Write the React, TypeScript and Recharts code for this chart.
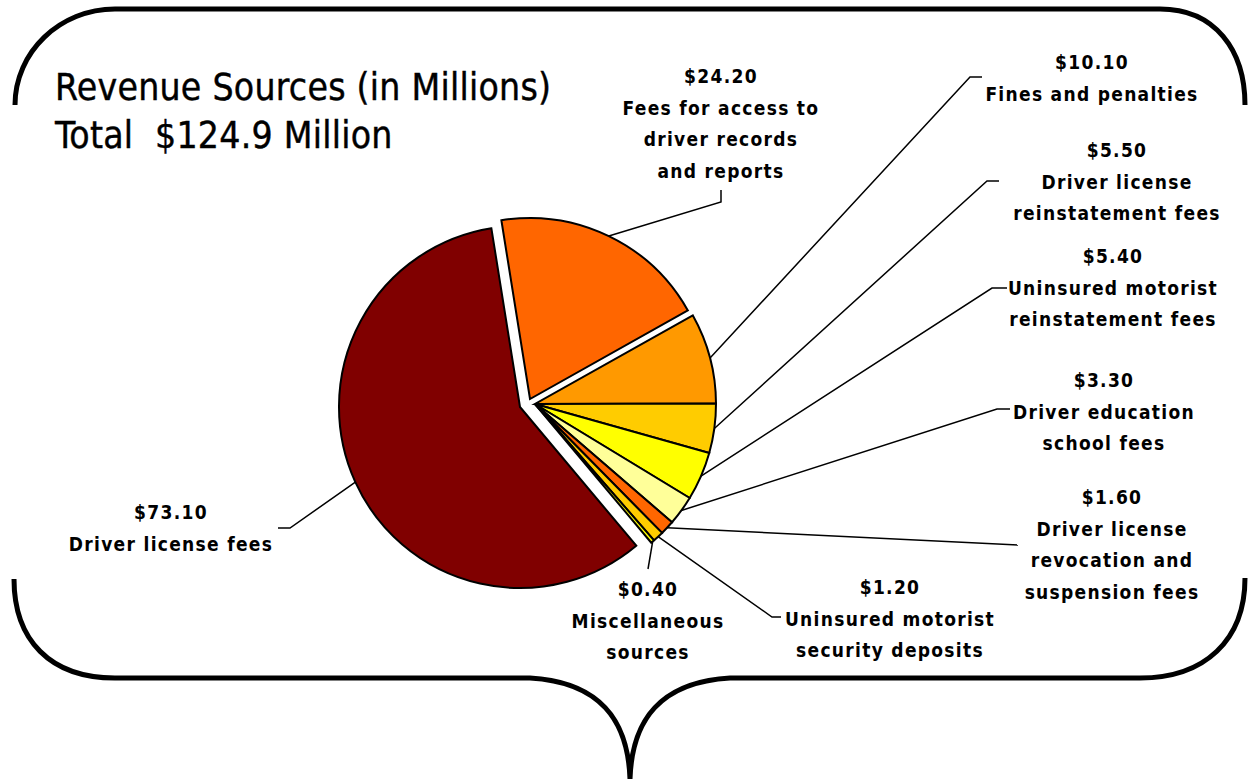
import React from 'react';
import { PieChart, Pie, Cell } from 'recharts';

// ---- data ----
const categories = [
  'Fees for access to driver records and reports',
  'Fines and penalties',
  'Driver license reinstatement fees',
  'Uninsured motorist reinstatement fees',
  'Driver education school fees',
  'Driver license revocation and suspension fees',
  'Uninsured motorist security deposits',
  'Miscellaneous sources',
  'Driver license fees',
];
const values = [24.2, 10.1, 5.5, 5.4, 3.3, 1.6, 1.2, 0.4, 73.1];
const valueLabels = ['$24.20', '$10.10', '$5.50', '$5.40', '$3.30', '$1.60', '$1.20', '$0.40', '$73.10'];
const labelLines = [
  ['Fees for access to', 'driver records', 'and reports'],
  ['Fines and penalties'],
  ['Driver license', 'reinstatement fees'],
  ['Uninsured motorist', 'reinstatement fees'],
  ['Driver education', 'school fees'],
  ['Driver license', 'revocation and', 'suspension fees'],
  ['Uninsured motorist', 'security deposits'],
  ['Miscellaneous', 'sources'],
  ['Driver license fees'],
];
const titleLines = ['Revenue Sources (in Millions)', 'Total  $124.9 Million'];

// ---- style / layout ----
const colors = ['#FF6600', '#FF9900', '#FFCC00', '#FFFF00', '#FFFF99', '#FF6600', '#FFCC00', '#FFFF00', '#800000'];
// explode offsets (px) per slice
const offsets = [
  { dx: -5, dy: -5 },
  { dx: 0, dy: 0 },
  { dx: 0, dy: 0 },
  { dx: 0, dy: 0 },
  { dx: 0, dy: 0 },
  { dx: 0, dy: 0 },
  { dx: 0, dy: 0 },
  { dx: 0, dy: 0 },
  { dx: -15, dy: 3 },
];
const CX = 530;
const CY = 399;
const R = 181;
const START = 99.1;
const END = START - 360;
const FONT = "'DejaVu Sans Condensed', 'DejaVu Sans', sans-serif";
const labelPos = [
  { x: 721, y: 83 },
  { x: 1092, y: 69 },
  { x: 1117, y: 157 },
  { x: 1113, y: 263 },
  { x: 1104, y: 387 },
  { x: 1112, y: 504 },
  { x: 890, y: 594 },
  { x: 648, y: 596 },
  { x: 171, y: 519 },
];
const elbows: number[][][] = [
  [[721, 202], [721, 190]],
  [[970, 77], [982, 77]],
  [[987, 181], [999, 181]],
  [[992, 288], [1007, 288]],
  [[997, 409], [1010, 409]],
  [[1018, 545]],
  [[772, 617], [781, 617]],
  [[648, 569]],
  [[290, 528], [278, 528]],
];
const LINE_H = 31.5;
const RAD = Math.PI / 180;

const rows = categories.map((name, i) => ({ name, value: values[i] }));
const isExploded = (i: number) => offsets[i].dx !== 0 || offsets[i].dy !== 0;

const renderLabel = (props: any) => {
  const { cx, cy, midAngle, outerRadius, index } = props;
  const o = offsets[index];
  const sx = cx + o.dx + outerRadius * Math.cos(-midAngle * RAD);
  const sy = cy + o.dy + outerRadius * Math.sin(-midAngle * RAD);
  const pts = [[sx, sy], ...elbows[index]].map((p) => p.join(',')).join(' ');
  const pos = labelPos[index];
  const lines = [valueLabels[index], ...labelLines[index]];
  return (
    <g key={`lab-${index}`}>
      <polyline points={pts} fill="none" stroke="#000" strokeWidth={1.5} />
      <text
        x={pos.x}
        y={pos.y}
        textAnchor="middle"
        fontFamily={FONT}
        fontWeight="bold"
        fontSize={19}
        letterSpacing={1.3}
        fill="#000"
      >
        {lines.map((t, k) => (
          <tspan key={k} x={pos.x} y={pos.y + k * LINE_H}>
            {t}
          </tspan>
        ))}
      </text>
    </g>
  );
};

const bubbleTop = 'M 15 105 C 15 52, 60 9, 115 9 L 1160 9 C 1215 9, 1245 50, 1245 105';
const bubbleBottom =
  'M 14 579 C 14 640, 50 678, 115 678 L 530 678 C 600 682, 628 720, 630 779 M 630 779 C 632 720, 660 682, 730 678 L 1140 678 C 1205 678, 1245 640, 1245 578';

export default function App() {
  return (
    <div style={{ position: 'absolute', left: 0, top: 0, width: 1248, height: 779, background: '#fff' }}>
      <svg width={1248} height={779} style={{ position: 'absolute', left: 0, top: 0 }}>
        <path d={bubbleTop} fill="none" stroke="#000" strokeWidth={5} />
        <path d={bubbleBottom} fill="none" stroke="#000" strokeWidth={5} />
        <text x={55} y={100} fontFamily={FONT} fontSize={37} letterSpacing={0.25} stroke="#000" strokeWidth={0.4} fill="#000">
          {titleLines[0]}
        </text>
        <text x={55} y={148} fontFamily={FONT} fontSize={37} letterSpacing={0.25} stroke="#000" strokeWidth={0.4} fill="#000" xmlSpace="preserve">
          {titleLines[1]}
        </text>
      </svg>
      <div style={{ position: 'absolute', left: 0, top: 0 }}>
        <PieChart width={1248} height={779}>
          <Pie
            data={rows}
            dataKey="value"
            nameKey="name"
            cx={CX}
            cy={CY}
            outerRadius={R}
            startAngle={START}
            endAngle={END}
            stroke="#000"
            strokeWidth={2}
            label={renderLabel}
            labelLine={false}
            isAnimationActive={false}
          >
            {rows.map((_, i) => (
              <Cell
                key={i}
                fill={isExploded(i) ? 'none' : colors[i]}
                stroke={isExploded(i) ? 'none' : '#000'}
              />
            ))}
          </Pie>
          {offsets.map((o, j) =>
            isExploded(j) ? (
              <Pie
                key={`ex-${j}`}
                data={rows}
                dataKey="value"
                nameKey="name"
                cx={CX + o.dx}
                cy={CY + o.dy}
                outerRadius={R}
                startAngle={START}
                endAngle={END}
                strokeWidth={2}
                labelLine={false}
                isAnimationActive={false}
              >
                {rows.map((_, i) => (
                  <Cell key={i} fill={i === j ? colors[i] : 'none'} stroke={i === j ? '#000' : 'none'} />
                ))}
              </Pie>
            ) : null
          )}
        </PieChart>
      </div>
    </div>
  );
}
